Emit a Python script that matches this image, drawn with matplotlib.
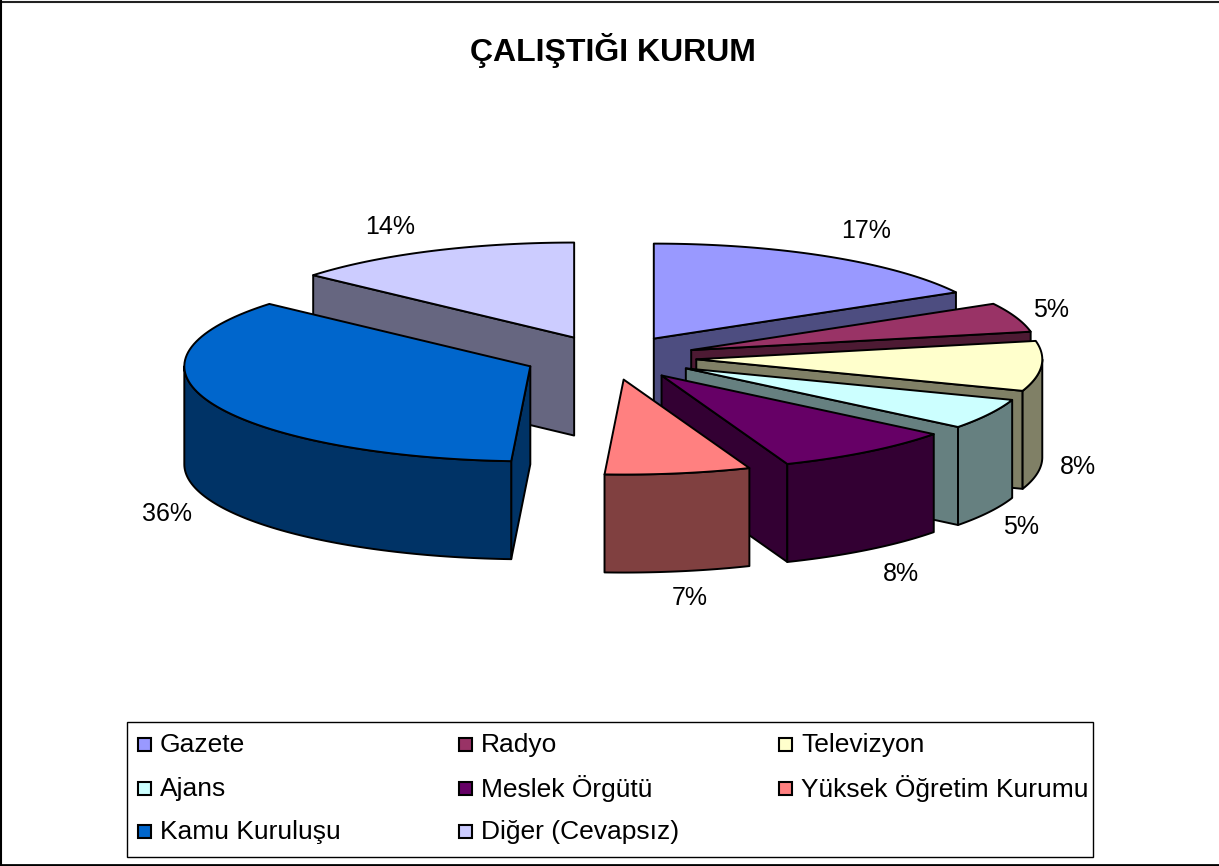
import numpy as np
import matplotlib
matplotlib.use("Agg")
import matplotlib.pyplot as plt
from matplotlib.patches import Polygon, Rectangle

plt.rcParams['font.family'] = ['Liberation Sans', 'DejaVu Sans']

title = "ÇALIŞTIĞI KURUM"
categories = ["Gazete", "Radyo", "Televizyon", "Ajans", "Meslek Örgütü",
              "Yüksek Öğretim Kurumu", "Kamu Kuruluşu", "Diğer (Cevapsız)"]
values = [16.9, 5.0, 8.49, 5.2, 8.49, 6.8, 35.52, 13.6]
top_colors = ["#9999FF", "#993366", "#FFFFCC", "#CCFFFF",
              "#660066", "#FF8080", "#0066CC", "#CCCCFF"]
side_colors = ["#4D4D80", "#4D1A33", "#808066", "#668080",
               "#330033", "#804040", "#003366", "#666680"]

# pie geometry, in pixels of the figure
cx, cy = 610, 357.7
rx, ry = 346, 95
depth = 98
explode_x, explode_y = 0.25, 0.233

# label shift away from the rim point of each slice (px)
label_shift = [(37, -26), (35, -7), (37, 3), (32, 15),
               (33, 24), (12, 27), (-45, 13), (-41, -24)]

# painter's order: the back slice on the left goes first so Kamu covers it
draw_order = [7, 0, 1, 2, 3, 4, 5, 6]


def rim(apex, angles):
    a = np.radians(angles)
    return np.column_stack([apex[0] + rx * np.sin(a), apex[1] - ry * np.cos(a)])


fig = plt.figure(figsize=(12.19, 8.66), dpi=100)
ax = fig.add_axes([0, 0, 1, 1])
ax.set_xlim(0, 1219)
ax.set_ylim(866, 0)
ax.axis("off")

shares = np.array(values) / sum(values)
ends = np.cumsum(shares) * 360
starts = ends - shares * 360

for i in draw_order:
    s, e = starts[i], ends[i]
    mid = np.radians((s + e) / 2)
    apex = (cx + explode_x * rx * np.sin(mid), cy - explode_y * ry * np.cos(mid))
    arc = rim(apex, np.linspace(s, e, 80))
    down = np.array([0, depth])
    line = dict(edgecolor="black", linewidth=1.4, joinstyle="round", closed=True)

    # radial side faces, only those turned to the viewer
    if s > 180:
        edge = arc[0]
        ax.add_patch(Polygon([apex, edge, edge + down, np.array(apex) + down],
                             facecolor=side_colors[i], **line))
    if e < 180:
        edge = arc[-1]
        ax.add_patch(Polygon([apex, edge, edge + down, np.array(apex) + down],
                             facecolor=side_colors[i], **line))

    # outer wall for the front half
    lo, hi = max(s, 90), min(e, 270)
    if hi > lo:
        wall = rim(apex, np.linspace(lo, hi, 80))
        ax.add_patch(Polygon(np.vstack([wall, (wall + down)[::-1]]),
                             facecolor=side_colors[i], **line))

    ax.add_patch(Polygon(np.vstack([[apex], arc]), facecolor=top_colors[i], **line))

    # percent label
    p = rim(apex, [(s + e) / 2])[0]
    if 90 < (s + e) / 2 < 270 or i == 2:
        p = p + down
    ax.text(p[0] + label_shift[i][0], p[1] + label_shift[i][1],
            f"{values[i]:.0f}%", fontsize=18, ha="center", va="center")

ax.text(613, 50, title, fontsize=23, fontweight="bold", ha="center", va="center")

# legend, filled row by row
ax.add_patch(Rectangle((127, 722), 966, 135, facecolor="white", edgecolor="black", linewidth=1))
col_x = [138, 459, 779]
row_y = [744, 788, 831]
for i, name in enumerate(categories):
    x = col_x[i % 3]
    y = row_y[i // 3]
    ax.add_patch(Rectangle((x, y - 6), 13, 13, facecolor=top_colors[i],
                           edgecolor="black", linewidth=1.5))
    ax.text(x + 22, y + 1, name, fontsize=19, ha="left", va="center")

# chart area frame, the right side has no line in the original
ax.plot([0, 1219], [1.5, 1.5], color="#222222", linewidth=1.5)
ax.plot([0.5, 0.5], [1, 865], color="black", linewidth=1.5)
ax.plot([0, 1219], [865, 865], color="black", linewidth=2)

fig.savefig("out.png", dpi=100)
